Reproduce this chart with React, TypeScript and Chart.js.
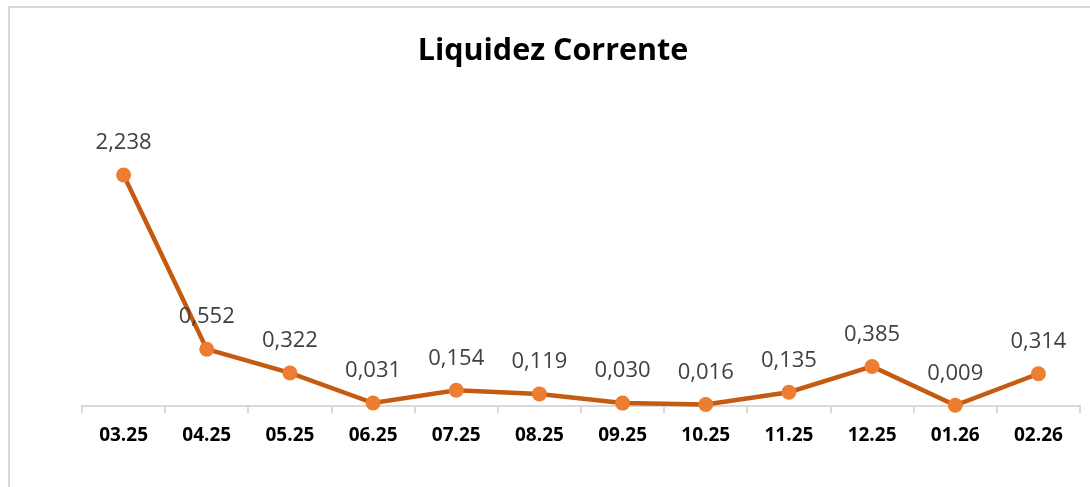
import React, { useEffect, useRef } from "react";
import { Chart, registerables } from "chart.js";

Chart.register(...registerables);

const categories = ["03.25", "04.25", "05.25", "06.25", "07.25", "08.25", "09.25", "10.25", "11.25", "12.25", "01.26", "02.26"];
const values = [2.238, 0.552, 0.322, 0.031, 0.154, 0.119, 0.03, 0.016, 0.135, 0.385, 0.009, 0.314];
const titleText = "Liquidez Corrente";

const titlePlugin = {
  id: "customTitle",
  afterDraw(chart: any) {
    const ctx = chart.ctx;
    ctx.save();
    ctx.font = "bold 30.5px 'Open Sans'";
    ctx.fillStyle = "#000000";
    ctx.textAlign = "center";
    ctx.textBaseline = "middle";
    ctx.fillText(titleText, chart.width / 2 + 8, 51);
    ctx.restore();
  },
};

const labelPlugin = {
  id: "valueLabels",
  afterDatasetsDraw(chart: any) {
    const ctx = chart.ctx;
    const meta = chart.getDatasetMeta(0);
    const data = chart.data.datasets[0].data as number[];
    ctx.save();
    ctx.font = "22px 'Open Sans'";
    ctx.fillStyle = "#404040";
    ctx.textAlign = "center";
    ctx.textBaseline = "middle";
    meta.data.forEach((pt: any, i: number) => {
      ctx.fillText(data[i].toFixed(3).replace(".", ","), pt.x, pt.y - 32);
    });
    ctx.restore();
  },
};

export default function App() {
  const canvasRef = useRef<HTMLCanvasElement | null>(null);

  useEffect(() => {
    document.body.style.margin = "0";
    document.body.style.overflow = "hidden";
    const chart = new Chart(canvasRef.current!, {
      type: "line",
      data: {
        labels: categories,
        datasets: [
          {
            data: values,
            borderColor: "#C55A11",
            borderWidth: 4.5,
            pointRadius: 7.5,
            pointHoverRadius: 7.5,
            pointBackgroundColor: "#ED7D31",
            pointBorderColor: "#ED7D31",
            pointBorderWidth: 0,
            tension: 0,
            clip: false as any,
          },
        ],
      },
      options: {
        animation: false,
        responsive: false,
        devicePixelRatio: 1,
        layout: { padding: { left: 82, right: 10, top: 148, bottom: 29 } },
        plugins: { legend: { display: false }, tooltip: { enabled: false }, title: { display: false } },
        scales: {
          x: {
            type: "category",
            offset: true,
            grid: {
              offset: true,
              drawOnChartArea: false,
              drawTicks: true,
              tickLength: 7,
              color: "#d9d9d9",
              lineWidth: 2,
            },
            border: { display: true, color: "#d9d9d9", width: 2 },
            ticks: {
              color: "#000000",
              font: { family: "'Open Sans'", size: 19, weight: "bold" },
              padding: 11,
              maxRotation: 0,
              autoSkip: false,
            },
          },
          y: {
            display: false,
            min: 0,
            max: 2.5,
          },
        },
      },
      plugins: [titlePlugin, labelPlugin],
    });
    return () => chart.destroy();
  }, []);

  return (
    <div style={{ position: "relative", width: 1090, height: 487, overflow: "hidden", background: "#ffffff" }}>
      <div
        style={{
          position: "absolute",
          left: 8,
          top: 6,
          width: 1200,
          height: 600,
          border: "2px solid #d9d9d9",
          boxSizing: "border-box",
        }}
      />
      <canvas ref={canvasRef} width={1090} height={487} style={{ position: "absolute", left: 0, top: 0 }} />
    </div>
  );
}
